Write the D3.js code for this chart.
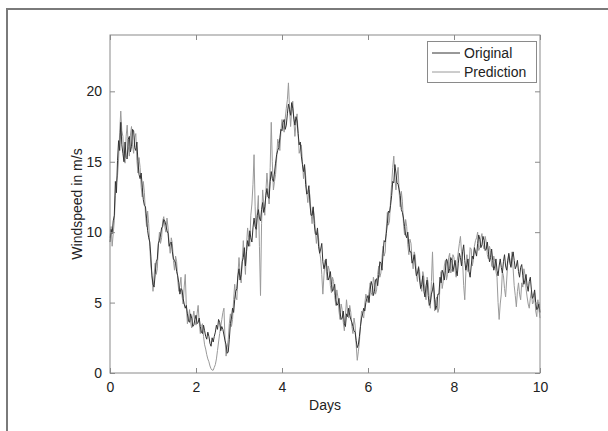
<!DOCTYPE html>
<html><head><meta charset="utf-8">
<script src="https://cdn.jsdelivr.net/npm/d3@7"></script>
<style>body{margin:0;background:#fff;} svg{display:block;font-family:"Liberation Sans",Arial,sans-serif;}</style>
</head><body>
<script>
const dayStep = 0.025;
const xTicks = [0, 2, 4, 6, 8, 10];
const yTicks = [0, 5, 10, 15, 20];
const seriesNames = ["Original", "Prediction"];
const original = [
9.3,10.2,9.9,10.8,11.2,13.6,12.8,15.1,16.5,15.8,17.8,16.2,15.6,15.0,16.4,15.3,15.2,16.6,16.8,15.7,
16.1,17.3,17.2,16.0,15.8,16.4,15.0,14.1,13.8,14.2,13.2,12.3,11.9,11.8,11.0,10.1,9.6,9.3,8.3,6.9,
6.3,6.1,7.0,7.9,8.1,9.2,9.4,9.8,10.3,10.4,10.9,10.8,10.5,10.1,9.9,9.0,9.2,9.3,8.6,8.1,
8.0,7.8,7.2,6.9,6.4,5.6,6.0,5.9,5.3,4.9,4.6,4.8,4.2,3.7,3.6,4.2,3.9,3.3,3.4,3.8,
4.1,3.5,3.6,3.9,3.3,2.9,2.8,3.4,3.0,2.6,2.4,2.9,2.6,2.1,1.9,2.5,2.2,2.6,2.9,3.4,
3.1,3.8,3.6,3.0,3.3,3.1,2.7,2.3,2.0,1.4,1.5,2.4,3.5,3.9,4.6,4.3,5.2,5.8,6.0,6.9,
7.4,6.6,7.0,7.9,8.2,8.9,7.6,8.6,9.4,9.0,10.1,9.6,9.3,10.3,11.0,10.4,10.2,11.2,11.6,11.0,
10.8,11.6,12.1,11.4,11.8,12.6,13.1,12.5,12.4,13.6,14.3,13.8,13.6,14.2,14.9,15.5,15.8,16.0,16.7,17.3,
17.2,17.8,18.0,17.3,17.6,18.4,19.1,18.7,18.3,19.2,18.8,18.1,17.6,18.2,17.9,17.0,16.2,16.4,15.4,14.8,
14.3,14.8,13.4,12.7,12.8,13.3,12.0,11.2,11.2,11.8,10.6,9.9,9.8,10.3,9.0,8.5,8.8,9.2,7.9,7.4,
7.7,8.1,7.2,6.6,6.8,7.2,6.3,5.8,6.0,6.3,5.2,4.8,4.9,5.3,4.3,3.8,3.9,4.4,3.5,3.3,
4.2,4.0,4.6,4.1,3.8,3.6,3.3,3.0,2.9,2.3,1.8,2.0,2.6,3.3,3.9,4.2,4.6,4.4,5.0,5.3,
5.5,5.0,5.9,6.5,6.2,5.5,5.8,6.6,6.7,6.2,7.0,7.9,7.8,7.3,8.5,9.4,9.3,9.9,10.6,11.5,
11.4,11.9,12.6,13.6,13.5,14.8,14.2,13.5,13.4,13.0,12.6,11.6,11.4,11.0,10.4,9.8,9.6,10.0,9.1,8.6,
8.6,7.8,8.0,8.4,7.6,6.9,7.1,7.5,6.6,6.0,6.3,6.9,5.8,5.4,6.2,6.6,5.5,4.8,5.0,5.6,
5.9,6.4,5.2,4.5,4.8,5.6,5.6,6.8,6.4,7.3,7.1,6.6,7.3,8.1,7.9,7.1,7.4,8.2,8.0,7.2,
7.6,8.0,7.3,6.9,7.8,8.5,8.2,7.6,8.6,9.1,8.0,7.3,7.7,8.1,7.2,6.8,7.6,8.3,8.1,8.9,
8.6,8.3,9.2,9.8,9.5,8.9,9.1,9.7,9.4,8.7,8.8,9.3,8.6,7.9,8.2,8.8,8.0,7.3,7.6,8.1,
7.3,6.9,7.6,8.1,7.5,7.1,7.9,8.4,7.6,7.3,8.0,8.5,7.8,7.5,8.2,8.6,8.0,7.4,7.6,8.0,
7.2,6.8,7.5,7.7,6.9,6.3,6.6,7.0,6.2,5.8,6.5,6.8,5.9,5.3,5.5,5.9,5.0,4.5,4.6,4.9,
4.3];
const prediction = [
9.6,10.4,9.0,9.9,10.8,12.6,13.5,14.0,15.2,17.1,18.6,17.2,16.8,15.3,14.9,16.8,17.6,16.1,15.4,16.9,
17.5,16.2,15.6,16.7,17.0,15.1,14.2,15.3,14.6,13.2,12.5,13.6,12.8,11.3,10.4,11.5,10.6,9.0,7.6,7.0,
5.8,6.9,7.8,7.0,7.4,9.1,10.0,9.2,9.6,10.8,11.1,10.4,10.0,11.0,10.3,9.2,8.5,9.6,9.2,8.0,
7.3,8.3,7.9,6.6,5.8,6.2,6.8,5.5,4.9,6.1,7.0,4.8,3.5,3.9,4.5,3.6,3.2,3.9,4.4,3.7,
3.4,4.2,4.8,3.6,2.8,3.3,3.5,2.6,2.0,1.7,1.3,1.0,0.8,0.5,0.3,0.2,0.2,0.4,0.6,1.0,
1.6,2.2,2.8,3.3,3.8,4.3,4.6,2.4,1.2,1.8,2.4,3.5,4.2,3.3,3.8,5.2,6.3,5.4,5.2,7.0,
8.2,7.1,6.4,8.0,9.4,8.1,7.0,9.1,10.3,9.6,9.0,11.2,12.0,13.4,15.5,11.8,9.6,11.4,12.6,9.0,
5.5,10.6,13.0,12.0,11.2,12.9,14.2,13.1,12.0,14.6,17.8,15.0,13.0,13.6,14.1,15.2,16.6,16.3,15.8,17.2,
18.0,17.6,17.1,18.1,18.8,19.4,20.6,18.8,17.5,18.6,19.3,18.0,16.8,17.7,18.4,17.0,15.6,15.9,16.2,15.0,
13.8,14.6,14.0,12.9,12.1,13.0,12.6,11.4,10.6,11.7,11.2,10.1,9.2,10.0,9.6,8.6,8.1,7.0,5.6,6.9,
8.0,7.4,6.6,7.6,7.3,6.2,5.7,6.8,6.5,5.5,4.8,5.9,5.4,4.4,3.8,4.9,4.5,3.6,3.0,4.1,
5.2,4.4,3.9,4.8,4.3,3.3,2.8,3.9,3.4,2.0,0.9,1.5,2.2,3.4,4.4,4.1,3.9,4.9,5.6,5.3,
5.0,5.8,6.4,5.7,5.5,6.8,6.4,5.6,5.9,7.0,7.6,6.8,7.1,8.2,9.0,8.3,8.6,10.2,11.4,10.5,
10.8,12.3,13.4,14.6,15.4,13.9,13.0,14.0,14.6,12.8,11.8,12.9,12.2,10.6,9.8,10.9,10.4,9.1,8.4,9.5,
9.2,8.1,7.4,8.6,8.3,7.0,6.5,7.6,7.2,6.1,5.8,7.2,6.8,5.6,5.2,6.8,6.4,5.3,4.6,6.5,
8.6,6.1,4.4,5.2,5.4,4.3,4.6,6.3,7.2,6.0,6.5,7.6,8.0,6.6,7.0,8.2,8.5,7.1,7.4,8.4,
8.2,7.3,6.8,8.0,8.6,9.2,9.7,8.6,7.9,6.2,5.2,7.1,8.4,7.2,7.6,8.9,8.8,7.6,8.0,9.0,
9.4,9.6,10.0,8.7,8.9,9.6,9.9,9.1,8.8,9.7,9.3,8.4,8.1,9.0,8.7,7.6,7.5,8.3,7.9,7.2,
6.8,5.0,3.8,4.9,5.6,7.2,6.9,6.0,5.4,6.6,7.8,8.4,8.1,7.6,8.6,7.4,6.2,5.5,4.7,5.8,
6.4,5.6,5.2,6.4,6.1,7.4,7.0,6.0,5.4,4.9,4.6,5.3,5.8,4.9,5.0,5.7,4.4,4.0,5.2,4.5,
3.9];

const W = 608, H = 431;
const m = {left:110, right:540, top:35, bottom:373};
const svg = d3.select("body").append("svg").attr("width", W).attr("height", H);

// outer frame
svg.append("path").attr("d", `M7,${H} V9 H${W}`).attr("fill","none").attr("stroke","#7a7a7a").attr("stroke-width",2);

const x = d3.scaleLinear().domain([0,10]).range([m.left, m.right]);
const y = d3.scaleLinear().domain([0,24]).range([m.bottom, m.top]);

const line = d3.line().x((d,i)=>x(i*dayStep)).y(d=>y(d));
svg.append("path").datum(prediction).attr("d", line).attr("fill","none").attr("stroke","#9a9a9a").attr("stroke-width",1);
svg.append("path").datum(original).attr("d", line).attr("fill","none").attr("stroke","#333").attr("stroke-width",1);

const axCol = "#8a8a8a";
// box
svg.append("rect").attr("x", m.left).attr("y", m.top).attr("width", m.right-m.left).attr("height", m.bottom-m.top)
  .attr("fill","none").attr("stroke", axCol).attr("stroke-width",1);

function styleAxis(g){ g.select(".domain").remove(); g.selectAll(".tick line").attr("stroke", axCol); g.selectAll(".tick text").attr("fill","#222").style("font-size","14px"); }
svg.append("g").attr("transform",`translate(0,${m.bottom})`).call(d3.axisBottom(x).tickValues(xTicks).tickSize(-5).tickPadding(9)).call(styleAxis);
svg.append("g").attr("transform",`translate(0,${m.top})`).call(d3.axisTop(x).tickValues(xTicks).tickSize(-5).tickFormat("")).call(styleAxis);
svg.append("g").attr("transform",`translate(${m.left},0)`).call(d3.axisLeft(y).tickValues(yTicks).tickSize(-5).tickPadding(8)).call(styleAxis);
svg.append("g").attr("transform",`translate(${m.right},0)`).call(d3.axisRight(y).tickValues(yTicks).tickSize(-5).tickFormat("")).call(styleAxis);

svg.append("text").attr("x", 325).attr("y", 410).attr("text-anchor","middle").attr("fill","#222").style("font-size","14px").text("Days");
svg.append("text").attr("transform","translate(82,204) rotate(-90)").attr("text-anchor","middle").attr("fill","#222").style("font-size","14px").text("Windspeed in m/s");

// legend
const lg = svg.append("g");
lg.append("rect").attr("x",427.5).attr("y",41.5).attr("width",109).attr("height",41).attr("fill","#fff").attr("stroke",axCol);
const lcols = ["#333","#9a9a9a"];
seriesNames.forEach((n,i)=>{
  const yy = 53 + i*19;
  lg.append("line").attr("x1",432).attr("x2",460).attr("y1",yy).attr("y2",yy).attr("stroke",lcols[i]);
  lg.append("text").attr("x",464).attr("y",yy+5).attr("fill","#222").style("font-size","14px").text(n);
});
</script>
</body></html>
